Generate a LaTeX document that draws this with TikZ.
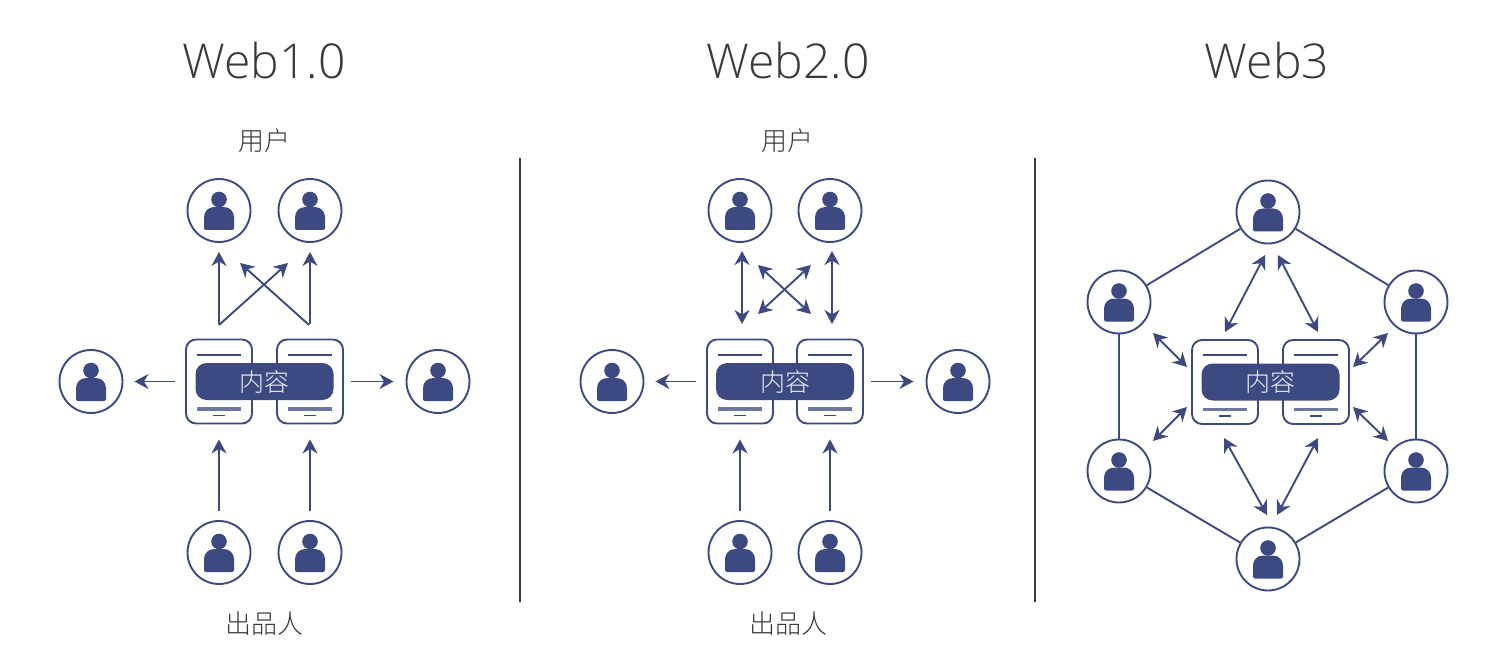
\documentclass[tikz,border=0pt]{standalone}
\usepackage{fontspec}
\setmainfont{Open Sans Light}
\newfontfamily\cjk{Noto Sans CJK SC Light}
\usetikzlibrary{arrows.meta, positioning}
\definecolor{webblue}{HTML}{3D4A82}
\definecolor{webtext}{HTML}{3A3A3A}
\tikzset{
  person/.style={circle, draw=webblue, line width=1.9pt, minimum size=63pt, inner sep=0pt, fill=white,
    path picture={
      \fill[webblue] ([yshift=11pt]path picture bounding box.center) circle (7.8pt);
      \fill[webblue] ([shift={(-15pt,-19.5pt)}]path picture bounding box.center)
        [rounded corners=2pt] -- ++(0,11pt) [rounded corners=10pt] -- ++(0,12pt) -- ++(30pt,0) [rounded corners=2pt] -- ++(0,-23pt) -- cycle;
    }},
  device/.style={rectangle, rounded corners=10pt, draw=webblue, line width=1.9pt, minimum width=66pt, minimum height=84pt,
    inner sep=0pt, fill=white,
    path picture={
      \draw[webblue, line width=2pt] ([shift={(-22pt,27pt)}]path picture bounding box.center) -- ++(44pt,0);
      \draw[webblue!75, line width=3.8pt] ([shift={(-22pt,-27.5pt)}]path picture bounding box.center) -- ++(44pt,0);
      \draw[webblue, line width=1.5pt] ([shift={(-6pt,-34pt)}]path picture bounding box.center) -- ++(12pt,0);
    }},
  pill/.style={rectangle, rounded corners=11pt, fill=webblue, minimum width=138pt, minimum height=37pt, inner sep=0pt,
    font=\cjk\fontsize{25}{25}\selectfont, text=white!88!webblue},
  title/.style={font=\fontsize{48}{48}\selectfont, text=webtext},
  caption/.style={font=\cjk\fontsize{26}{26}\selectfont, text=webtext},
  arr/.style={-{Stealth[length=14pt, width=15pt, inset=4.5pt]}, line width=1.9pt, webblue},
  dblarr/.style={{Stealth[length=14pt, width=15pt, inset=4.5pt]}-{Stealth[length=14pt, width=15pt, inset=4.5pt]}, line width=1.9pt, webblue},
  link/.style={line width=1.9pt, webblue},
  divider/.style={line width=1.7pt, webtext},
}
\begin{document}
\begin{tikzpicture}[x=1pt, y=-1pt, on grid]
  \useasboundingbox (0,0) rectangle (1496,652);

  % Web1.0
  \node[title] (tA) at (264,61) {Web1.0};
  \node[device] (dA1) at (219,381.5) {};
  \node[device, right=91pt of dA1] (dA2) {};
  \node[pill] (cA) at (264.5,381.5) {内容};
  \node[person, above=171pt of dA1] (uA1) {};
  \node[person, above=171pt of dA2] (uA2) {};
  \node[person, below=171pt of dA1] (pA1) {};
  \node[person, below=171pt of dA2] (pA2) {};
  \node[person, left=128pt of dA1] (sA1) {};
  \node[person, right=128pt of dA2] (sA2) {};
  \node[caption, above=70pt of uA1, xshift=45pt] (lA1) {用户};
  \node[caption, below=71pt of pA1, xshift=45pt] (lA2) {出品人};
  \draw[arr, shorten <=15pt, shorten >=9pt] (dA1.north) -- (uA1.south);
  \draw[arr, shorten <=15pt, shorten >=9pt] (dA2.north) -- (uA2.south);
  \coordinate (xA1) at (219,325);
  \coordinate (xA2) at (288,263);
  \coordinate (xA3) at (309,325);
  \coordinate (xA4) at (240,263);
  \draw[arr] (xA1) -- (xA2);
  \draw[arr] (xA3) -- (xA4);
  \draw[arr, shorten <=10pt, shorten >=11pt] (dA1.west) -- (sA1.east);
  \draw[arr, shorten <=7pt, shorten >=12pt] (dA2.east) -- (sA2.west);
  \draw[arr, shorten <=9pt, shorten >=15pt] (pA1.north) -- (dA1.south);
  \draw[arr, shorten <=9pt, shorten >=15pt] (pA2.north) -- (dA2.south);

  \coordinate (vA) at (520,158);
  \coordinate (vB) at (520,602);
  \draw[divider] (vA) -- (vB);

  % Web2.0
  \node[title] (tB) at (788,61) {Web2.0};
  \node[device] (dB1) at (740,381.5) {};
  \node[device, right=90pt of dB1] (dB2) {};
  \node[pill] (cB) at (785,381.5) {内容};
  \node[person, above=171pt of dB1] (uB1) {};
  \node[person, above=171pt of dB2] (uB2) {};
  \node[person, below=171pt of dB1] (pB1) {};
  \node[person, below=171pt of dB2] (pB2) {};
  \node[person, left=128pt of dB1] (sB1) {};
  \node[person, right=128pt of dB2] (sB2) {};
  \node[caption, above=70pt of uB1, xshift=47pt] (lB1) {用户};
  \node[caption, below=71pt of pB1, xshift=48pt] (lB2) {出品人};
  \coordinate (zB1) at (742,324);
  \coordinate (zB2) at (742,251);
  \coordinate (zB3) at (832,324);
  \coordinate (zB4) at (832,251);
  \draw[dblarr] (zB1) -- (zB2);
  \draw[dblarr] (zB3) -- (zB4);
  \coordinate (xB1) at (758,314);
  \coordinate (xB2) at (811,265);
  \coordinate (xB3) at (811,314);
  \coordinate (xB4) at (758,265);
  \draw[dblarr] (xB1) -- (xB2);
  \draw[dblarr] (xB3) -- (xB4);
  \draw[arr, shorten <=10pt, shorten >=11pt] (dB1.west) -- (sB1.east);
  \draw[arr, shorten <=7pt, shorten >=12pt] (dB2.east) -- (sB2.west);
  \draw[arr, shorten <=9pt, shorten >=15pt] (pB1.north) -- (dB1.south);
  \draw[arr, shorten <=9pt, shorten >=15pt] (pB2.north) -- (dB2.south);

  \coordinate (vC) at (1035,158);
  \coordinate (vD) at (1035,602);
  \draw[divider] (vC) -- (vD);

  % Web3
  \node[title] (tC) at (1267,61) {Web3};
  \node[device] (dC1) at (1225,382) {};
  \node[device, right=91pt of dC1] (dC2) {};
  \node[pill] (cC) at (1270.5,382) {内容};
  \node[person] (nT) at (1268,212) {};
  \node[person] (nUL) at (1119,302) {};
  \node[person] (nUR) at (1416,302) {};
  \node[person] (nLL) at (1119,471) {};
  \node[person] (nLR) at (1416,471) {};
  \node[person] (nB) at (1268,559) {};
  \draw[link] (nT) -- (nUL);
  \draw[link] (nT) -- (nUR);
  \draw[link] (nUL) -- (nLL);
  \draw[link] (nUR) -- (nLR);
  \draw[link] (nLL) -- (nB);
  \draw[link] (nLR) -- (nB);
  \coordinate (yC1) at (1265,255);
  \coordinate (yC2) at (1225,332);
  \coordinate (yC3) at (1278,255);
  \coordinate (yC4) at (1318,332);
  \coordinate (yC5) at (1153,333);
  \coordinate (yC6) at (1187,367);
  \coordinate (yC7) at (1388,333);
  \coordinate (yC8) at (1353,367);
  \coordinate (yC9) at (1187,407);
  \coordinate (yC10) at (1153,441);
  \coordinate (yC11) at (1353,407);
  \coordinate (yC12) at (1388,441);
  \coordinate (yC13) at (1224,438);
  \coordinate (yC14) at (1267,515);
  \coordinate (yC15) at (1318,438);
  \coordinate (yC16) at (1277,515);
  \draw[dblarr] (yC1) -- (yC2);
  \draw[dblarr] (yC3) -- (yC4);
  \draw[dblarr] (yC5) -- (yC6);
  \draw[dblarr] (yC7) -- (yC8);
  \draw[dblarr] (yC9) -- (yC10);
  \draw[dblarr] (yC11) -- (yC12);
  \draw[dblarr] (yC13) -- (yC14);
  \draw[dblarr] (yC15) -- (yC16);
\end{tikzpicture}
\end{document}
